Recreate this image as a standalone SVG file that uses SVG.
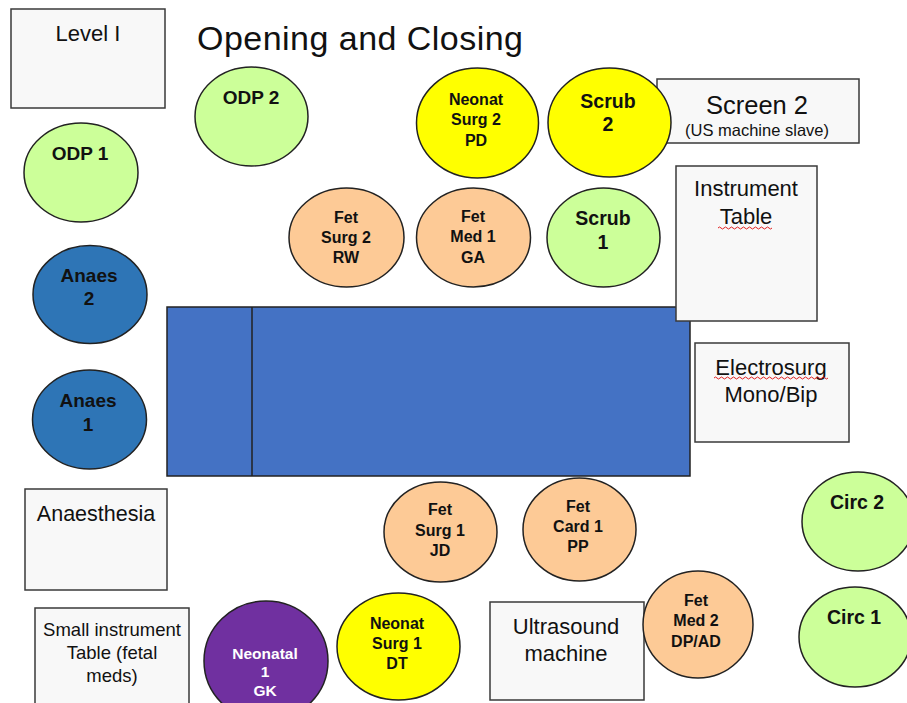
<svg xmlns="http://www.w3.org/2000/svg" width="907" height="703" viewBox="0 0 907 703">
<style>
.box{fill:#f8f8f8;stroke:#3a3a3a;stroke-width:1.5}
.p{stroke:#222;stroke-width:1.5}
.g{fill:#ccff99}.y{fill:#ffff00}.o{fill:#fdca96}.b{fill:#2e75b6}.v{fill:#7030a0}
.t{font-family:"Liberation Sans",Arial,sans-serif;font-weight:bold;text-anchor:middle;fill:#111}
.n{font-family:"Liberation Sans",Arial,sans-serif;text-anchor:middle;fill:#111}
.sq{fill:none;stroke:#e02020;stroke-width:1}
</style>
<rect width="907" height="703" fill="#fff"/>
<text x="197" y="50" font-family="'Liberation Sans',Arial,sans-serif" font-size="34" textLength="326" fill="#111">Opening and Closing</text>
<g id="table"><rect x="167" y="307" width="523" height="169" fill="#4472c4" stroke="#222" stroke-width="1.5"/><line x1="252" y1="307" x2="252" y2="476" stroke="#222" stroke-width="1.5"/></g>
<g id="level1"><rect class="box" x="11" y="9" width="154" height="99"/><text class="n" x="88" y="41" font-size="22">Level I</text></g>
<g id="screen2"><rect class="box" x="657" y="79" width="202" height="64"/><text class="n" x="757" y="114" font-size="25.5">Screen 2</text><text class="n" x="757" y="136" font-size="16.5">(US machine slave)</text></g>
<g id="instrument"><rect class="box" x="676" y="166" width="141" height="155"/><text class="n" x="746" y="196" font-size="22">Instrument</text><text class="n" x="746" y="224" font-size="22">Table</text><path class="sq" d="M718 228 q1.5 -2 3 0 t3 0 t3 0 t3 0 t3 0 t3 0 t3 0 t3 0 t3 0 t3 0 t3 0 t3 0 t3 0 t3 0 t3 0 t3 0 t3 0 t3 0"/></g>
<g id="electrosurg"><rect class="box" x="695" y="343" width="154" height="99"/><text class="n" x="771" y="375" font-size="22">Electrosurg</text><text class="n" x="771" y="402" font-size="22">Mono/Bip</text><path class="sq" d="M714 378 q1.5 -2 3 0 t3 0 t3 0 t3 0 t3 0 t3 0 t3 0 t3 0 t3 0 t3 0 t3 0 t3 0 t3 0 t3 0 t3 0 t3 0 t3 0 t3 0 t3 0 t3 0 t3 0 t3 0 t3 0 t3 0 t3 0 t3 0 t3 0 t3 0 t3 0 t3 0 t3 0 t3 0 t3 0 t3 0 t3 0 t3 0 t3 0 t3 0"/></g>
<g id="anaesthesia"><rect class="box" x="25" y="489" width="142" height="101"/><text class="n" x="96" y="521" font-size="21.5">Anaesthesia</text></g>
<g id="smallinstrument"><rect class="box" x="35" y="608" width="154" height="100"/><text class="n" x="112" y="636" font-size="18.5">Small instrument</text><text class="n" x="112" y="659" font-size="18.5">Table (fetal</text><text class="n" x="112" y="682" font-size="18.5">meds)</text></g>
<g id="ultrasound"><rect class="box" x="490" y="602" width="154" height="98"/><text class="n" x="566" y="634" font-size="22">Ultrasound</text><text class="n" x="566" y="661" font-size="22">machine</text></g>
<g id="odp2"><ellipse class="p g" cx="251.5" cy="116.5" rx="56.5" ry="49.5"/><text class="t" x="251" y="104" font-size="19">ODP 2</text></g>
<g id="odp1"><ellipse class="p g" cx="81" cy="172.5" rx="57" ry="49.5"/><text class="t" x="80" y="160" font-size="19">ODP 1</text></g>
<g id="anaes2"><ellipse class="p b" cx="90" cy="294.5" rx="57" ry="49"/><text class="t" x="89" y="282" font-size="19">Anaes</text><text class="t" x="89" y="305" font-size="19">2</text></g>
<g id="anaes1"><ellipse class="p b" cx="89.5" cy="419.5" rx="57" ry="49.5"/><text class="t" x="88" y="407" font-size="19">Anaes</text><text class="t" x="88" y="431" font-size="19">1</text></g>
<g id="neonatsurg2"><ellipse class="p y" cx="477.5" cy="123" rx="61" ry="55"/><text class="t" x="476" y="105" font-size="16">Neonat</text><text class="t" x="476" y="125" font-size="16">Surg 2</text><text class="t" x="476" y="146" font-size="16">PD</text></g>
<g id="scrub2"><ellipse class="p y" cx="609.5" cy="122.5" rx="61.5" ry="54.5"/><text class="t" x="608" y="108" font-size="19.5">Scrub</text><text class="t" x="608" y="131" font-size="19.5">2</text></g>
<g id="fetsurg2"><ellipse class="p o" cx="346.5" cy="237.5" rx="57.5" ry="49.5"/><text class="t" x="346" y="223" font-size="16">Fet</text><text class="t" x="346" y="243" font-size="16">Surg 2</text><text class="t" x="346" y="263" font-size="16">RW</text></g>
<g id="fetmed1"><ellipse class="p o" cx="473.5" cy="237.5" rx="57" ry="49.5"/><text class="t" x="473" y="222" font-size="16">Fet</text><text class="t" x="473" y="242" font-size="16">Med 1</text><text class="t" x="473" y="263" font-size="16">GA</text></g>
<g id="scrub1"><ellipse class="p g" cx="603.5" cy="237.5" rx="56.5" ry="49.5"/><text class="t" x="603" y="225" font-size="19.5">Scrub</text><text class="t" x="603" y="249" font-size="19.5">1</text></g>
<g id="fetsurg1"><ellipse class="p o" cx="440.5" cy="532" rx="56.5" ry="50"/><text class="t" x="440" y="515" font-size="16">Fet</text><text class="t" x="440" y="536" font-size="16">Surg 1</text><text class="t" x="440" y="556" font-size="16">JD</text></g>
<g id="fetcard1"><ellipse class="p o" cx="579.5" cy="529.5" rx="56.5" ry="51.5"/><text class="t" x="578" y="512" font-size="16">Fet</text><text class="t" x="578" y="532" font-size="16">Card 1</text><text class="t" x="578" y="552" font-size="16">PP</text></g>
<g id="fetmed2"><ellipse class="p o" cx="698" cy="624.5" rx="55" ry="53.5"/><text class="t" x="696" y="606" font-size="16">Fet</text><text class="t" x="696" y="626" font-size="16">Med 2</text><text class="t" x="696" y="647" font-size="16">DP/AD</text></g>
<g id="neonatsurg1"><ellipse class="p y" cx="398.5" cy="646.5" rx="61.5" ry="53.5"/><text class="t" x="397" y="629" font-size="16">Neonat</text><text class="t" x="397" y="649" font-size="16">Surg 1</text><text class="t" x="397" y="669" font-size="16">DT</text></g>
<g id="neonatal1"><ellipse class="p v" cx="266" cy="661" rx="62" ry="60"/><text class="t" x="265" y="658.5" font-size="15.5" fill="#fff" style="fill:#fff">Neonatal</text><text class="t" x="265" y="677" font-size="15.5" style="fill:#fff">1</text><text class="t" x="265" y="696" font-size="15.5" style="fill:#fff">GK</text></g>
<g id="circ2"><ellipse class="p g" cx="858" cy="521.5" rx="56" ry="49.5"/><text class="t" x="857" y="509" font-size="19.5">Circ 2</text></g>
<g id="circ1"><ellipse class="p g" cx="855" cy="637" rx="56" ry="50"/><text class="t" x="854" y="624" font-size="19.5">Circ 1</text></g>
<g id="connectors"></g>
</svg>
